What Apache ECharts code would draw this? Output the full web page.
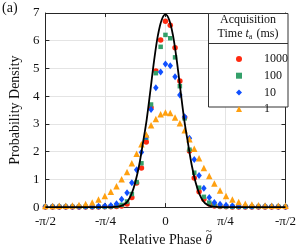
<!DOCTYPE html>
<html><head><meta charset="utf-8">
<script src="https://cdn.jsdelivr.net/npm/echarts@6/dist/echarts.min.js"></script>
<style>html,body{margin:0;padding:0;background:#fff}#c{width:299px;height:252px}</style>
</head><body><div id="c"></div>
<script>
// Relative phase, in units of pi/4
const phase = [-2.0,-1.88,-1.77,-1.66,-1.55,-1.44,-1.33,-1.22,-1.115,-1.01,-0.91,-0.815,-0.73,-0.64,-0.56,-0.48,-0.40,-0.32,-0.24,-0.16,-0.08,
  0,
  0.08,0.16,0.24,0.32,0.40,0.48,0.56,0.64,0.73,0.815,0.91,1.01,1.115,1.22,1.33,1.44,1.55,1.66,1.77,1.88,2.0];
const density1000 = [0,0,0,0,0,0,0,0,0,0.01,0.01,0.02,0.04,0.11,0.35,0.87,1.41,2.35,3.58,4.91,6.03,
  6.70,
  6.56,5.75,4.55,3.23,2.02,1.05,0.55,0.28,0.11,0.04,0.02,0.01,0,0,0,0,0,0,0,0,0];
const density100 = [0.01,0.01,0.01,0.01,0.01,0.01,0.01,0.01,0.01,0.01,0.02,0.04,0.08,0.20,0.47,0.90,1.58,2.50,3.70,4.83,5.78,
  6.21,
  6.09,5.40,4.36,3.20,2.07,1.24,0.70,0.37,0.16,0.07,0.03,0.02,0.01,0.01,0.01,0.01,0.01,0.01,0.01,0.01,0.01];
const density10 = [0.02,0.02,0.02,0.02,0.02,0.02,0.03,0.03,0.03,0.04,0.06,0.12,0.28,0.52,0.88,1.35,1.98,2.55,3.52,4.30,4.87,
  5.16,
  5.10,4.70,4.04,3.26,2.48,1.72,1.14,0.68,0.35,0.17,0.10,0.07,0.05,0.04,0.04,0.03,0.03,0.03,0.03,0.02,0.02];
const density1 = [0.04,0.04,0.05,0.05,0.06,0.08,0.11,0.17,0.27,0.40,0.55,0.75,1.00,1.27,1.58,1.92,2.27,2.62,2.95,3.18,3.35,
  3.41,
  3.39,3.23,3.02,2.77,2.45,2.10,1.76,1.41,1.12,0.85,0.60,0.40,0.27,0.18,0.12,0.09,0.07,0.06,0.05,0.05,0.05];
const theoryPhase = [-2.0,-0.972,-0.846,-0.752,-0.690,-0.627,-0.564,-0.502,-0.439,-0.376,-0.313,-0.251,-0.188,-0.125,-0.063,0,
  0.063,0.125,0.188,0.251,0.313,0.376,0.439,0.502,0.564,0.627,0.690,0.752,0.846,0.972,2.0];
const theoryDensity = [0,0,0.008,0.035,0.09,0.22,0.48,0.9,1.5,2.3,3.15,4.2,5.3,6.2,6.75,6.95,
  6.75,6.2,5.3,4.2,3.15,2.3,1.5,0.9,0.48,0.22,0.09,0.035,0.008,0,0];
const xTickLabels = {'-2':'-π/2','-1':'-π/4','0':'0','1':'π/4','2':'-π/2'};
const seriesNames = ['1000','100','10','1'];
const seriesData = [density1000, density100, density10, density1];
const colors = ['#ff2a10','#34a06a','#1050ff','#ffa010'];
const symbols = ['circle','rect','diamond','triangle'];
const symbolSizes = [5.5, 4.5, [5.5,7], 6.5];

const FONT = 'Liberation Serif';
// measure x-axis name to place the tilde over theta
const mc = document.createElement('canvas').getContext('2d');
mc.font = '14px "Liberation Serif"';
const wPre = mc.measureText('Relative Phase ').width;
mc.font = 'italic 14px "Liberation Serif"';
const wTh = mc.measureText('θ').width;
const nameCenterX = 33 + (299 - 33 - 11) / 2;
const thetaX = nameCenterX - (wPre + wTh) / 2 + wPre + wTh / 2 + 5;

const chart = echarts.init(document.getElementById('c'), null, {renderer:'canvas'});
const pairs = (xs, ys) => xs.map((x,i)=>[x, ys[i]]);
const axisLineStyle = {color:'#262626', width:1};
const opt = {
  animation:false,
  grid:{left:33, right:11, top:13, bottom:37, containLabel:false},
  xAxis:[{
    type:'value', min:-2, max:2, interval:1,
    name:'{n|Relative Phase }{i|θ}', nameLocation:'middle', nameGap:22,
    nameTextStyle:{rich:{n:{fontFamily:FONT,fontSize:14,color:'#111'},i:{fontFamily:FONT,fontSize:14,fontStyle:'italic',color:'#111'}}},
    axisLine:{show:true, onZero:false, lineStyle:axisLineStyle},
    axisTick:{show:true, inside:true, length:4, lineStyle:axisLineStyle},
    splitLine:{show:true, lineStyle:{color:'#e4e4e4', width:1}},
    axisLabel:{fontFamily:FONT, fontSize:13, color:'#111', margin:8, formatter:v=>xTickLabels[String(Math.round(v))]}
  },{
    type:'value', min:-2, max:2, interval:1, position:'top',
    axisLine:{show:true, onZero:false, lineStyle:axisLineStyle},
    axisTick:{show:true, inside:true, length:4, lineStyle:axisLineStyle},
    splitLine:{show:false}, axisLabel:{show:false}
  }],
  yAxis:[{
    type:'value', min:0, max:7, interval:1,
    name:'Probability Density', nameLocation:'middle', nameGap:16, nameRotate:90,
    nameTextStyle:{fontFamily:FONT, fontSize:14, color:'#111'},
    axisLine:{show:true, onZero:false, lineStyle:axisLineStyle},
    axisTick:{show:true, inside:true, length:4, lineStyle:axisLineStyle},
    splitLine:{show:true, lineStyle:{color:'#e4e4e4', width:1}},
    axisLabel:{fontFamily:FONT, fontSize:13, color:'#111', margin:6}
  },{
    type:'value', min:0, max:7, interval:1, position:'right',
    axisLine:{show:true, onZero:false, lineStyle:axisLineStyle},
    axisTick:{show:true, inside:true, length:4, lineStyle:axisLineStyle},
    splitLine:{show:false}, axisLabel:{show:false}
  }],
  legend:{
    z:30, orient:'vertical', left:231, top:48, itemWidth:6, itemHeight:6, itemGap:4.7,
    data:seriesNames,
    textStyle:{fontFamily:FONT, fontSize:12, color:'#111', lineHeight:10, padding:[0,0,0,17]}
  },
  graphic:[
    {type:'text', left:2, top:1, style:{text:'(a)', font:'14px "Liberation Serif"', fill:'#111'}},
    {type:'text', x:thetaX, y:231, style:{text:'~', font:'11px "Liberation Serif"', fill:'#111', align:'center', verticalAlign:'middle'}},
    {type:'rect', z:20, shape:{x:208.5, y:13.5, width:79.5, height:93.5}, style:{fill:'#fff', stroke:'#333', lineWidth:1}},
    {type:'line', z:21, shape:{x1:208.5, y1:43.5, x2:288, y2:43.5}, style:{stroke:'#333', lineWidth:1}},
    {type:'text', z:21, x:248, y:20, style:{text:'Acquisition', font:'12px "Liberation Serif"', fill:'#111', align:'center', verticalAlign:'middle'}},
    {type:'text', z:21, x:248, y:34, style:{
      text:'{n|Time }{i|t}{s|a}{n| (ms)}', align:'center', verticalAlign:'middle',
      rich:{n:{fontFamily:FONT,fontSize:12,fill:'#111'}, i:{fontFamily:FONT,fontSize:12,fontStyle:'italic',fill:'#111'}, s:{fontFamily:FONT,fontSize:8,fill:'#111',padding:[5,1,0,0]}}
    }}
  ],
  series: seriesNames.map((n,i)=>({
    name:n, type:'scatter', data:pairs(phase, seriesData[i]),
    symbol:symbols[i], symbolSize:symbolSizes[i], itemStyle:{color:colors[i], opacity:1},
    clip:false, z:2+i
  })).concat([{
    name:'theory', type:'line', data:pairs(theoryPhase, theoryDensity), smooth:0.35,
    showSymbol:false, lineStyle:{color:'#000', width:1.8}, z:10
  }])
};
chart.setOption(opt);
</script></body></html>
